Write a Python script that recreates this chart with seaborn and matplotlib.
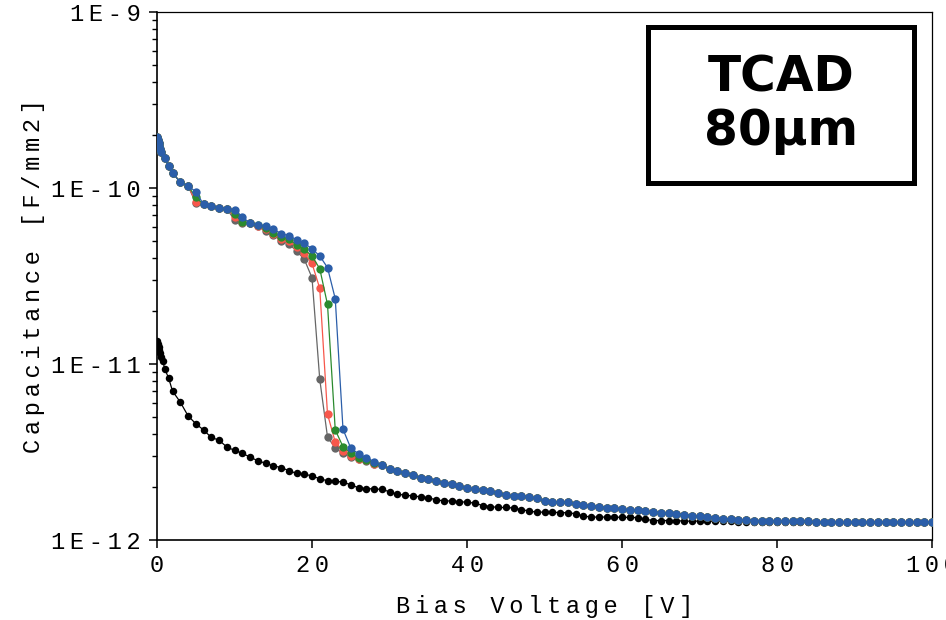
import matplotlib
matplotlib.use("Agg")
import matplotlib.pyplot as plt
import seaborn as sns
import pandas as pd
from matplotlib import font_manager
from matplotlib.ft2font import FT2Font
from matplotlib.patches import Rectangle
from matplotlib.ticker import FixedLocator, FixedFormatter, LogLocator, NullFormatter

# ---------------- data ----------------
v_upper = [0, 0.1, 0.2, 0.3, 0.4, 0.5, 1, 1.5, 2, 3, 4] + list(range(5, 101))

upper_head = [1.95e-10, 1.87e-10, 1.80e-10, 1.73e-10, 1.67e-10, 1.60e-10,
              1.49e-10, 1.33e-10, 1.22e-10, 1.08e-10, 1.03e-10]          # V 0..4

blue_mid = [9.53e-11, 8.08e-11, 7.90e-11, 7.73e-11, 7.63e-11, 7.48e-11, 6.87e-11, 6.30e-11,
            6.15e-11, 6.06e-11, 5.87e-11, 5.50e-11, 5.37e-11, 5.08e-11, 4.85e-11, 4.52e-11,
            4.11e-11, 3.53e-11, 2.35e-11, 4.26e-12, 3.33e-12, 3.09e-12, 2.94e-12, 2.79e-12]  # V 5..28
green_mid = [8.86e-11, 8.08e-11, 7.90e-11, 7.73e-11, 7.63e-11, 7.12e-11, 6.37e-11, 6.30e-11,
             6.15e-11, 5.95e-11, 5.57e-11, 5.29e-11, 5.13e-11, 4.74e-11, 4.48e-11, 4.11e-11,
             3.48e-11, 2.18e-11, 4.22e-12, 3.39e-12, 3.13e-12, 2.92e-12, 2.86e-12, 2.74e-12]
red_mid = [8.36e-11, 8.08e-11, 7.90e-11, 7.73e-11, 7.63e-11, 6.87e-11, 6.37e-11, 6.30e-11,
           6.12e-11, 5.85e-11, 5.48e-11, 5.16e-11, 5.00e-11, 4.60e-11, 4.26e-11, 3.73e-11,
           2.69e-11, 5.19e-12, 3.60e-12, 3.20e-12, 3.02e-12, 2.89e-12, 2.83e-12, 2.72e-12]
gray_mid = [8.22e-11, 8.08e-11, 7.90e-11, 7.73e-11, 7.63e-11, 6.58e-11, 6.33e-11, 6.30e-11,
            6.05e-11, 5.72e-11, 5.41e-11, 5.02e-11, 4.81e-11, 4.39e-11, 3.94e-11, 3.09e-11,
            8.18e-12, 3.85e-12, 3.33e-12, 3.11e-12, 2.97e-12, 2.88e-12, 2.82e-12, 2.71e-12]

upper_tail = [2.67e-12, 2.53e-12, 2.48e-12, 2.41e-12, 2.34e-12, 2.26e-12, 2.21e-12, 2.16e-12,   # V 29..36
              2.12e-12, 2.09e-12, 2.03e-12, 1.975e-12, 1.95e-12, 1.92e-12, 1.905e-12, 1.86e-12,  # 37..44
              1.795e-12, 1.78e-12, 1.78e-12, 1.76e-12, 1.725e-12, 1.67e-12, 1.65e-12, 1.64e-12,  # 45..52
              1.635e-12, 1.60e-12, 1.575e-12, 1.57e-12, 1.55e-12, 1.526e-12, 1.514e-12, 1.50e-12,  # 53..60
              1.48e-12, 1.48e-12, 1.46e-12, 1.44e-12, 1.43e-12, 1.418e-12, 1.40e-12, 1.395e-12,  # 61..68
              1.374e-12, 1.37e-12, 1.357e-12, 1.34e-12, 1.32e-12, 1.315e-12, 1.304e-12, 1.30e-12,  # 69..76
              1.29e-12, 1.29e-12, 1.28e-12, 1.28e-12, 1.28e-12, 1.275e-12, 1.275e-12, 1.275e-12,  # 77..84
              1.27e-12, 1.27e-12, 1.27e-12, 1.27e-12, 1.27e-12, 1.27e-12, 1.27e-12, 1.27e-12,    # 85..92
              1.27e-12, 1.27e-12, 1.27e-12, 1.27e-12, 1.27e-12, 1.27e-12, 1.27e-12, 1.27e-12]    # 93..100

v_black = [0, 0.1, 0.2, 0.3, 0.4, 0.5, 0.75, 1, 1.5, 2] + list(range(3, 101))
c_black = [1.351e-11, 1.30e-11, 1.25e-11, 1.20e-11, 1.155e-11, 1.10e-11, 1.04e-11, 9.37e-12,
           8.32e-12, 7.02e-12,
           6.08e-12, 5.08e-12, 4.58e-12, 4.22e-12, 3.83e-12, 3.69e-12, 3.38e-12, 3.23e-12,  # 3..10
           3.11e-12, 2.96e-12, 2.82e-12, 2.73e-12, 2.64e-12, 2.58e-12, 2.48e-12, 2.39e-12,  # 11..18
           2.37e-12, 2.31e-12, 2.23e-12, 2.17e-12, 2.16e-12, 2.13e-12, 2.06e-12, 1.98e-12,  # 19..26
           1.96e-12, 1.95e-12, 1.94e-12, 1.88e-12, 1.82e-12, 1.80e-12, 1.78e-12, 1.76e-12,  # 27..34
           1.74e-12, 1.69e-12, 1.67e-12, 1.665e-12, 1.65e-12, 1.64e-12, 1.62e-12, 1.57e-12,  # 35..42
           1.55e-12, 1.53e-12, 1.53e-12, 1.52e-12, 1.49e-12, 1.46e-12, 1.44e-12, 1.44e-12,  # 43..50
           1.44e-12, 1.43e-12, 1.43e-12, 1.41e-12, 1.37e-12, 1.35e-12, 1.35e-12, 1.35e-12,  # 51..58
           1.35e-12, 1.345e-12, 1.345e-12, 1.34e-12, 1.31e-12, 1.29e-12, 1.29e-12, 1.29e-12,  # 59..66
           1.29e-12, 1.28e-12, 1.28e-12, 1.28e-12, 1.28e-12, 1.28e-12, 1.28e-12, 1.28e-12,  # 67..74
           1.27e-12, 1.27e-12, 1.27e-12, 1.27e-12, 1.27e-12, 1.27e-12, 1.27e-12, 1.27e-12,  # 75..82
           1.27e-12, 1.27e-12, 1.27e-12, 1.27e-12, 1.27e-12, 1.27e-12, 1.27e-12, 1.27e-12,  # 83..90
           1.27e-12, 1.27e-12, 1.27e-12, 1.27e-12, 1.27e-12, 1.27e-12, 1.27e-12, 1.27e-12,  # 91..98
           1.27e-12, 1.27e-12]                                                              # 99..100

x_ticks = [0, 20, 40, 60, 80, 100]
x_tick_labels = ["0", "20", "40", "60", "80", "100"]
y_ticks = [1e-12, 1e-11, 1e-10, 1e-9]
y_tick_labels = ["1E-12", "1E-11", "1E-10", "1E-9"]
x_label = "Bias Voltage [V]"
y_label = "Capacitance [F/mm2]"
box_text = "TCAD\n80μm"

series_colors = {"gray": "#666666", "red": "#f7574b", "green": "#2b8a2e", "blue": "#2b5ea9"}

# ---------------- style / fonts ----------------
sns.set_style("ticks")
plt.rcParams["font.family"] = ["Liberation Mono", "DejaVu Sans"]
for key in ["text.color", "axes.labelcolor", "xtick.color", "ytick.color", "axes.edgecolor"]:
    plt.rcParams[key] = "black"


def pick_spacer():
    try:
        mono = FT2Font(font_manager.findfont(
            font_manager.FontProperties(family="Liberation Mono"), fallback_to_default=False))
        dv = FT2Font(font_manager.findfont(font_manager.FontProperties(family="DejaVu Sans")))
        mc, dc = mono.get_charmap(), dv.get_charmap()
        for ch in ["\u2009", "\u2005", "\u2004"]:
            if ord(ch) not in mc and ord(ch) in dc:
                return ch
    except Exception:
        pass
    return ""


SP = pick_spacer()
FS = 17 if SP == "\u2009" else 15


def spaced(s):
    return SP.join(s)


# ---------------- figure ----------------
fig = plt.figure(figsize=(9.46, 6.2), dpi=100)
ax = fig.add_axes([157 / 946, 80 / 620, 775 / 946, 528 / 620])

sns.lineplot(x=v_black, y=c_black, ax=ax, color="black", marker="o", markersize=5.4,
             markeredgewidth=0, linewidth=0.9, sort=False, estimator=None, zorder=2)

mids = {"gray": gray_mid, "red": red_mid, "green": green_mid, "blue": blue_mid}
for k, name in enumerate(["gray", "red", "green", "blue"]):
    yvals = upper_head + mids[name] + upper_tail
    df = pd.DataFrame({"V": v_upper, "C": yvals})
    sns.lineplot(data=df, x="V", y="C", ax=ax, color=series_colors[name], marker="o",
                 markersize=6.0, markeredgewidth=0, linewidth=0.9, sort=False,
                 estimator=None, zorder=3 + k)

ax.set_yscale("log")
ax.set_xlim(0, 100)
ax.set_ylim(1e-12, 1e-9)

ax.xaxis.set_major_locator(FixedLocator(x_ticks))
ax.xaxis.set_major_formatter(FixedFormatter([spaced(t) for t in x_tick_labels]))
ax.yaxis.set_major_locator(FixedLocator(y_ticks))
ax.yaxis.set_major_formatter(FixedFormatter([spaced(t) for t in y_tick_labels]))
ax.yaxis.set_minor_locator(LogLocator(base=10, subs=[2, 3, 4, 5, 6, 7, 8, 9], numticks=20))
ax.yaxis.set_minor_formatter(NullFormatter())

ax.tick_params(axis="both", which="major", direction="out", length=6, width=1.1,
               labelsize=FS, colors="black", pad=4)
ax.tick_params(axis="y", which="minor", direction="out", length=3.5, width=1.0)
ax.tick_params(axis="y", which="major", pad=6)

for side in ["left", "bottom", "top", "right"]:
    ax.spines[side].set_visible(True)
    ax.spines[side].set_color("black")
    ax.spines[side].set_linewidth(1.2)
ax.spines["right"].set_linewidth(0.9)
ax.spines["top"].set_linewidth(0.9)

ax.set_xlabel(spaced(x_label), fontsize=FS, labelpad=13)
ax.set_ylabel(spaced(y_label), fontsize=FS, labelpad=4)
ax.grid(False)

# text box
ax.add_patch(Rectangle((0.634, 0.676), 0.343, 0.2956, transform=ax.transAxes,
                       facecolor="white", edgecolor="black", linewidth=3.6, zorder=10))
ax.text(0.805, 0.826, box_text, transform=ax.transAxes, ha="center", va="center",
        fontsize=35, fontweight="bold", family=["DejaVu Sans"], color="black",
        linespacing=1.15, zorder=11)

fig.savefig("out.png", dpi=100)
